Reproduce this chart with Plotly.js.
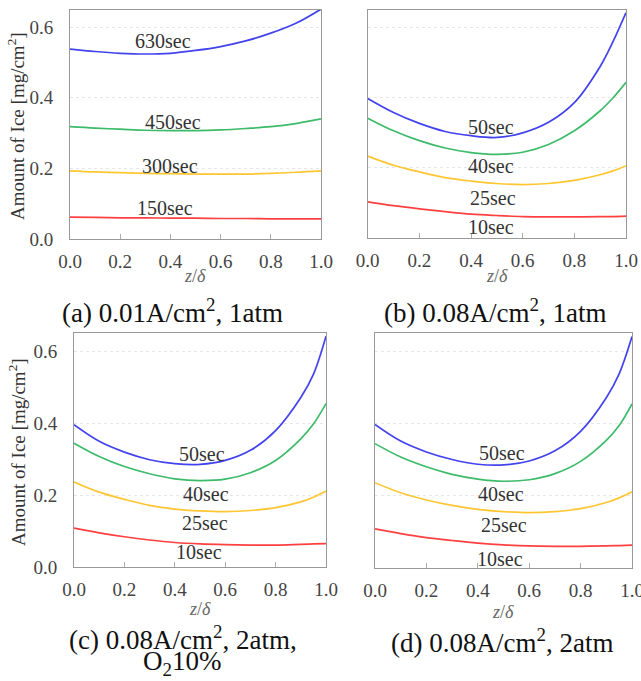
<!DOCTYPE html>
<html>
<head>
<meta charset="utf-8">
<script src="https://cdn.plot.ly/plotly-3.0.1.min.js"></script>
<style>html,body{margin:0;padding:0;background:#fff;}#chart{width:641px;height:681px;}</style>
</head>
<body>
<div id="chart"></div>
<script>
// ---- data ----
const zA = [0, 0.1, 0.2, 0.3, 0.4, 0.5, 0.6, 0.7, 0.8, 0.9, 1.0];
const a630 = [0.538, 0.531, 0.526, 0.524, 0.526, 0.534, 0.545, 0.561, 0.583, 0.611, 0.651];
const a450 = [0.318, 0.314, 0.311, 0.308, 0.307, 0.307, 0.309, 0.313, 0.318, 0.327, 0.340];
const a300 = [0.193, 0.190, 0.188, 0.186, 0.185, 0.184, 0.184, 0.184, 0.186, 0.189, 0.193];
const a150 = [0.062, 0.061, 0.060, 0.060, 0.059, 0.059, 0.058, 0.058, 0.057, 0.057, 0.057];

const zB = [0, 0.1, 0.2, 0.3, 0.4, 0.5, 0.6, 0.7, 0.8, 0.9, 0.95, 1.0];
const b50 = [0.397, 0.357, 0.326, 0.303, 0.291, 0.286, 0.299, 0.329, 0.385, 0.488, 0.559, 0.641];
const b40 = [0.341, 0.305, 0.277, 0.256, 0.243, 0.238, 0.244, 0.266, 0.305, 0.362, 0.399, 0.443];
const b25 = [0.233, 0.207, 0.188, 0.172, 0.162, 0.155, 0.152, 0.155, 0.164, 0.180, 0.191, 0.205];
const b10 = [0.103, 0.092, 0.083, 0.075, 0.068, 0.064, 0.061, 0.060, 0.060, 0.061, 0.061, 0.062];

const zC = [0, 0.1, 0.2, 0.3, 0.4, 0.5, 0.6, 0.7, 0.8, 0.9, 0.95, 1.0];
const c50 = [0.395, 0.349, 0.319, 0.298, 0.287, 0.285, 0.296, 0.324, 0.379, 0.471, 0.535, 0.641];
const c40 = [0.344, 0.307, 0.279, 0.259, 0.245, 0.240, 0.244, 0.262, 0.296, 0.356, 0.397, 0.454];
const c25 = [0.236, 0.208, 0.188, 0.171, 0.161, 0.156, 0.154, 0.157, 0.165, 0.181, 0.194, 0.211];
const c10 = [0.108, 0.095, 0.084, 0.075, 0.068, 0.064, 0.062, 0.061, 0.061, 0.063, 0.064, 0.065];

const zD = [0, 0.1, 0.2, 0.3, 0.4, 0.5, 0.6, 0.7, 0.8, 0.9, 0.95, 1.0];
const d50 = [0.397, 0.351, 0.321, 0.300, 0.287, 0.285, 0.296, 0.324, 0.378, 0.471, 0.537, 0.640];
const d40 = [0.344, 0.307, 0.280, 0.259, 0.246, 0.240, 0.244, 0.261, 0.295, 0.353, 0.394, 0.454];
const d25 = [0.236, 0.208, 0.188, 0.173, 0.162, 0.156, 0.153, 0.156, 0.164, 0.181, 0.194, 0.211];
const d10 = [0.108, 0.095, 0.084, 0.076, 0.069, 0.064, 0.061, 0.060, 0.060, 0.061, 0.062, 0.063];

const xTicks = [0, 0.2, 0.4, 0.6, 0.8, 1.0];
const xTickText = ['0.0', '0.2', '0.4', '0.6', '0.8', '1.0'];
const yTicks = [0, 0.2, 0.4, 0.6];
const yTickText = ['0.0', '0.2', '0.4', '0.6'];

const labelsA = ['630sec', '450sec', '300sec', '150sec'];
const labelsB = ['50sec', '40sec', '25sec', '10sec'];
const captions = [
  '(a) 0.01A/cm<sup>2</sup>, 1atm',
  '(b) 0.08A/cm<sup>2</sup>, 1atm',
  '(c) 0.08A/cm<sup>2</sup>, 2atm,',
  'O<sub>2</sub>10%',
  '(d) 0.08A/cm<sup>2</sup>, 2atm'
];

// ---- styling ----
const COLORS = ['#4343ee', '#3dbb6a', '#ffc633', '#ff4040'];
const SERIF = "'Liberation Serif', 'Times New Roman', Times, serif";

function line(x, y, i, xa, ya) {
  return {x: x, y: y, xaxis: xa, yaxis: ya, type: 'scatter', mode: 'lines',
    line: {color: COLORS[i], width: 1.7, shape: 'spline', smoothing: 1.0},
    hoverinfo: 'skip', showlegend: false};
}

const data = [
  line(zA, a630, 0, 'x', 'y'), line(zA, a450, 1, 'x', 'y'), line(zA, a300, 2, 'x', 'y'), line(zA, a150, 3, 'x', 'y'),
  line(zB, b50, 0, 'x2', 'y2'), line(zB, b40, 1, 'x2', 'y2'), line(zB, b25, 2, 'x2', 'y2'), line(zB, b10, 3, 'x2', 'y2'),
  line(zC, c50, 0, 'x3', 'y3'), line(zC, c40, 1, 'x3', 'y3'), line(zC, c25, 2, 'x3', 'y3'), line(zC, c10, 3, 'x3', 'y3'),
  line(zD, d50, 0, 'x4', 'y4'), line(zD, d40, 1, 'x4', 'y4'), line(zD, d25, 2, 'x4', 'y4'), line(zD, d10, 3, 'x4', 'y4')
];

function xax(dom, anchor) {
  return {domain: dom, anchor: anchor, range: [0, 1], fixedrange: true,
    tickvals: xTicks, ticktext: xTickText, ticks: 'inside', ticklen: 5, tickcolor: '#aaa',
    ticklabelstandoff: 5, ticklabeloverflow: 'allow',
    tickfont: {family: SERIF, size: 19, color: '#444'},
    showgrid: false, zeroline: false, showline: true, linecolor: '#999', linewidth: 1, mirror: true};
}
function yax(dom, anchor, labels) {
  return {domain: dom, anchor: anchor, range: [0, 0.65], fixedrange: true,
    tickvals: yTicks, ticktext: yTickText, ticks: '', showticklabels: labels,
    ticklabelstandoff: 12, ticklabeloverflow: 'allow',
    tickfont: {family: SERIF, size: 19, color: '#444'},
    showgrid: true, gridcolor: '#e6e6e6', griddash: 'dot', gridwidth: 1,
    zeroline: false, showline: true, linecolor: '#999', linewidth: 1, mirror: true};
}

const W = 641, H = 681;
const px = v => v / W, py = v => 1 - v / H;

const layout = {
  width: W, height: H, margin: {l: 0, r: 0, t: 0, b: 0},
  paper_bgcolor: '#fff', plot_bgcolor: '#fff', showlegend: false,
  font: {family: SERIF},
  xaxis: xax([px(70), px(321)], 'y'),
  yaxis: yax([py(239), py(9.5)], 'x', true),
  xaxis2: xax([px(367.7), px(626)], 'y2'),
  yaxis2: yax([py(238), py(9.5)], 'x2', false),
  xaxis3: xax([px(74), px(326)], 'y3'),
  yaxis3: yax([py(567), py(333)], 'x3', true),
  xaxis4: xax([px(375), px(632)], 'y4'),
  yaxis4: yax([py(568), py(333)], 'x4', false),
  annotations: []
};

const ann = layout.annotations;
function lab(text, xr, yr, x, y) {
  ann.push({text: text, xref: xr, yref: yr, x: x, y: y, showarrow: false,
    font: {family: SERIF, size: 20, color: '#333'}, xanchor: 'center', yanchor: 'middle'});
}
// series labels
lab(labelsA[0], 'x', 'y', 0.372, 0.560);
lab(labelsA[1], 'x', 'y', 0.410, 0.330);
lab(labelsA[2], 'x', 'y', 0.400, 0.207);
lab(labelsA[3], 'x', 'y', 0.380, 0.087);
lab(labelsB[0], 'x2', 'y2', 0.476, 0.315);
lab(labelsB[1], 'x2', 'y2', 0.476, 0.205);
lab(labelsB[2], 'x2', 'y2', 0.486, 0.115);
lab(labelsB[3], 'x2', 'y2', 0.476, 0.030);
lab(labelsB[0], 'x3', 'y3', 0.507, 0.314);
lab(labelsB[1], 'x3', 'y3', 0.523, 0.204);
lab(labelsB[2], 'x3', 'y3', 0.520, 0.123);
lab(labelsB[3], 'x3', 'y3', 0.497, 0.041);
lab(labelsB[0], 'x4', 'y4', 0.496, 0.318);
lab(labelsB[1], 'x4', 'y4', 0.492, 0.206);
lab(labelsB[2], 'x4', 'y4', 0.500, 0.119);
lab(labelsB[3], 'x4', 'y4', 0.486, 0.026);

// axis titles
function ytitle(x, y) {
  ann.push({text: 'Amount of Ice [mg/cm<sup>2</sup>]', xref: 'paper', yref: 'paper', x: px(x), y: py(y),
    showarrow: false, textangle: -90, font: {family: SERIF, size: 19, color: '#333'},
    xanchor: 'center', yanchor: 'middle'});
}
ytitle(16, 126);
ytitle(17, 452);
function xtitle(x, y) {
  ann.push({text: '<i>z</i>/<i>δ</i>', xref: 'paper', yref: 'paper', x: px(x), y: py(y),
    showarrow: false, font: {family: SERIF, size: 18, color: '#666'}, xanchor: 'center', yanchor: 'middle'});
}
xtitle(195, 276);
xtitle(497, 276);
xtitle(200, 609);
xtitle(503, 612);

// captions
function cap(text, x, y) {
  ann.push({text: text, xref: 'paper', yref: 'paper', x: px(x), y: py(y), showarrow: false,
    font: {family: SERIF, size: 27, color: '#111'}, xanchor: 'center', yanchor: 'middle', align: 'center'});
}
cap(captions[0], 172, 311);
cap(captions[1], 495, 311);
cap(captions[2], 183, 638);
cap(captions[3], 182, 663);
cap(captions[4], 502, 641);

Plotly.newPlot('chart', data, layout, {displayModeBar: false, staticPlot: true});
</script>
</body>
</html>
